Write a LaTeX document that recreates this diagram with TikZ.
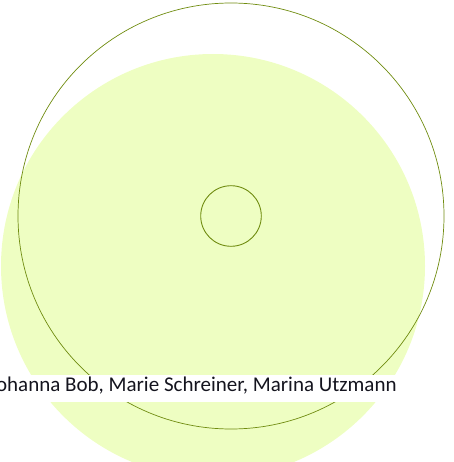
\documentclass[tikz,border=0pt]{standalone}
\usepackage{fontspec}
\setmainfont{Carlito}
\definecolor{discfill}{RGB}{238,254,194}
\definecolor{discline}{RGB}{112,140,16}
\begin{document}
\begin{tikzpicture}[x=1pt,y=-1pt,line width=0.8pt]
\useasboundingbox (0,0) rectangle (453,462);
\clip (0,0) rectangle (453,462);
% ---------- filled disc ----------
\fill[discfill] (213,266) circle (212);
% ---------- outer ring and centre hole ----------
\draw[discline,line width=0.7] (231,216) circle (213);
\draw[discline,line width=0.9] (231,216) circle (30.3);
% ---------- names ----------
\node[fill=white,anchor=east,inner xsep=2pt,inner ysep=3pt,text height=13pt,text depth=8pt,
  font=\fontsize{21}{25}\selectfont,text={rgb,255:red,20;green,20;blue,30}] (names) at (399,388.5)
  {Johanna Bob, Marie Schreiner, Marina Utzmann};
\end{tikzpicture}
\end{document}
